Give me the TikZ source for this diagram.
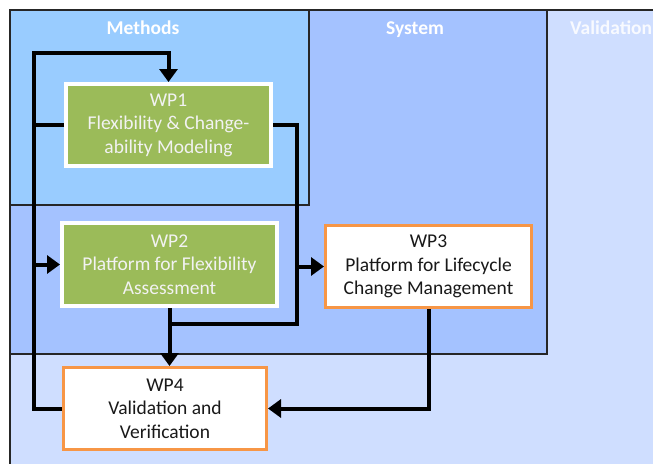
\documentclass[tikz,border=0pt]{standalone}
\usepackage{fontspec}
\setmainfont{Carlito}
\usetikzlibrary{arrows.meta}
\definecolor{valbg}{HTML}{CFDEFF}
\definecolor{sysbg}{HTML}{A4C2FF}
\definecolor{metbg}{HTML}{99CCFF}
\definecolor{wpgreen}{HTML}{9BBB59}
\definecolor{wporange}{HTML}{F79646}
\tikzset{
  region/.style={draw=black!85, line width=1.3pt},
  regtitle/.style={text=white, anchor=base, inner sep=0pt, font=\fontsize{19.5}{22}\selectfont\bfseries},
  greenbox/.style={draw=white, line width=4pt, fill=wpgreen, text=white!95!black, align=center,
    font=\fontsize{19.5}{23.5}\selectfont, inner sep=0pt},
  whitebox/.style={draw=wporange, line width=3pt, fill=white, text=black!90, align=center,
    font=\fontsize{19.5}{23.5}\selectfont, inner sep=0pt},
  conn/.style={line width=4pt, black},
  arr/.style={conn, -{Triangle[length=13pt,width=18pt]}}
}
\begin{document}
\begin{tikzpicture}[x=1pt,y=-1pt]
\useasboundingbox (0,0) rectangle (653,463);
\clip (0,0) rectangle (653,463);
% regions
\path[region, fill=valbg] (10,10) rectangle (680,490);
\path[region, fill=sysbg] (10,10) rectangle (547,354);
\path[region, fill=metbg] (10,10) rectangle (309,205);
\node[regtitle] (tmet) at (143,34) {Methods};
\node[regtitle] (tsys) at (415,34) {System};
\node[regtitle, anchor=base west, text=white!85!valbg] (tval) at (570,34) {Validation};
% work packages
\node[greenbox, minimum width=205pt, minimum height=82pt] (wp1) at (168.5,125)
  {WP1\\Flexibility \& Change-\\ability Modeling};
\node[greenbox, minimum width=215pt, minimum height=83pt] (wp2) at (169.5,264.5)
  {WP2\\Platform for Flexibility\\Assessment};
\node[whitebox, minimum width=206pt, minimum height=82pt] (wp3) at (428.5,266.5)
  {WP3\\Platform for Lifecycle\\Change Management};
\node[whitebox, minimum width=203pt, minimum height=82pt] (wp4) at (165,408.5)
  {WP4\\Validation and\\Verification};
% connectors
\coordinate (busx) at (34,0);
\coordinate (topy) at (0,53);
\coordinate (rx) at (297,0);
\coordinate (joiny) at (0,324);
\draw[arr] (wp4.west) -- (busx |- wp4.west) -- (busx |- topy) -- (wp1.north |- topy) -- (wp1.north);
\draw[conn] (wp1.west) -- (busx |- wp1.west);
\draw[arr] (busx |- wp2.west) -- (wp2.west);
\draw[conn] (wp1.east) -- (rx |- wp1.east) -- (rx |- joiny) -- (wp2.south |- joiny);
\draw[arr] (wp2.south) -- (wp2.south |- wp4.north);
\draw[arr] (rx |- wp3.west) -- (wp3.west);
\draw[arr] (wp3.south) -- (wp3.south |- wp4.east) -- (wp4.east);
\end{tikzpicture}
\end{document}
